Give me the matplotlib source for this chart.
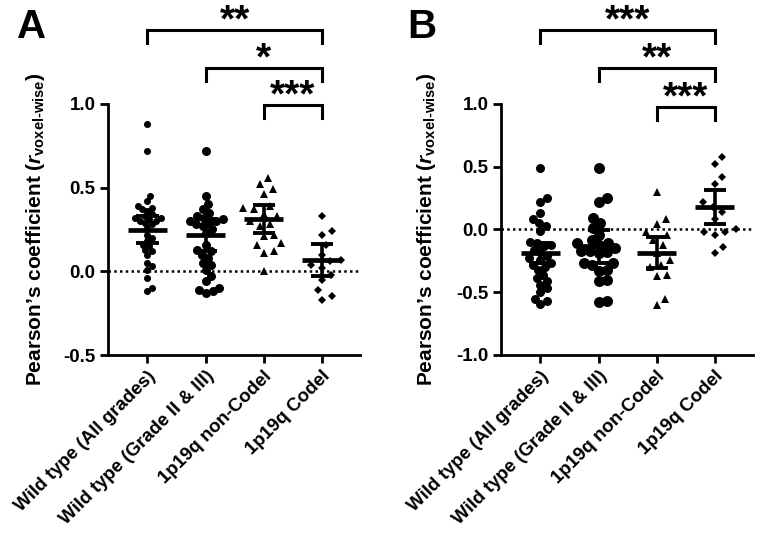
import numpy as np
import matplotlib
matplotlib.use("Agg")
import matplotlib.pyplot as plt

plt.rcParams["font.family"] = ["Liberation Sans", "DejaVu Sans"]
plt.rcParams["font.weight"] = "bold"
plt.rcParams["axes.unicode_minus"] = False
plt.rcParams["mathtext.fontset"] = "custom"
plt.rcParams["mathtext.rm"] = "Liberation Sans:bold"
plt.rcParams["mathtext.it"] = "Liberation Sans:italic:bold"
plt.rcParams["mathtext.bf"] = "Liberation Sans:bold"

# ─── Data ─────────────────────────────────────────────────────────
groups = ["Wild type (All grades)", "Wild type (Grade II & III)",
          "1p19q non-Codel", "1p19q Codel"]

a_wt_all = [0.88, 0.72, 0.45, 0.42, 0.39, 0.38, 0.37, 0.36, 0.34, 0.33, 0.32,
            0.32, 0.31, 0.30, 0.30, 0.29, 0.28, 0.26, 0.22, 0.20, 0.18, 0.16,
            0.15, 0.13, 0.12, 0.10, 0.05, 0.03, 0.01, -0.04, -0.10, -0.12]
a_wt_low = [0.72, 0.45, 0.40, 0.37, 0.35, 0.33, 0.32, 0.31, 0.30, 0.30, 0.29,
            0.28, 0.27, 0.25, 0.23, 0.16, 0.13, 0.12, 0.10, 0.08, 0.05, 0.04,
            0.01, -0.03, -0.06, -0.10, -0.11, -0.12, -0.13]
a_noncodel = [0.56, 0.52, 0.49, 0.46, 0.39, 0.38, 0.37, 0.34, 0.33, 0.30, 0.28,
              0.27, 0.22, 0.21, 0.17, 0.16, 0.12, 0.11, 0.00]
a_codel = [0.33, 0.24, 0.22, 0.16, 0.10, 0.07, 0.06, 0.04, 0.02, -0.02, -0.05,
           -0.11, -0.15, -0.17]
a_mean = [0.245, 0.215, 0.31, 0.065]
a_ci_low = [0.17, 0.12, 0.23, -0.03]
a_ci_high = [0.33, 0.31, 0.395, 0.163]
a_stars = ["**", "*", "***"]

b_wt_all = [0.49, 0.25, 0.22, 0.13, 0.08, 0.05, 0.03, -0.01, -0.10, -0.11,
            -0.12, -0.13, -0.16, -0.18, -0.21, -0.23, -0.24, -0.27, -0.28,
            -0.30, -0.32, -0.36, -0.39, -0.41, -0.44, -0.47, -0.50, -0.55,
            -0.57, -0.59]
b_wt_low = [0.49, 0.25, 0.22, 0.09, 0.05, 0.01, -0.04, -0.08, -0.11, -0.11,
            -0.12, -0.15, -0.17, -0.17, -0.18, -0.19, -0.27, -0.27, -0.28,
            -0.32, -0.33, -0.40, -0.41, -0.57, -0.58]
b_noncodel = [0.30, 0.08, 0.04, -0.02, -0.04, -0.08, -0.12, -0.19, -0.24,
              -0.28, -0.30, -0.36, -0.37, -0.55, -0.60]
b_codel = [0.58, 0.52, 0.42, 0.36, 0.22, 0.18, 0.14, 0.08, 0.00, -0.02, -0.02,
           -0.04, -0.14, -0.19]
b_mean = [-0.19, -0.13, -0.19, 0.178]
b_ci_low = [-0.267, -0.27, -0.31, 0.043]
b_ci_high = [-0.108, -0.005, -0.06, 0.315]
b_stars = ["***", "**", "***"]

sig_pairs = [(0, 3), (1, 3), (2, 3)]
markers = ["o", "o", "^", "D"]

YLABEL = r"Pearson’s coefficient ($\mathit{r}_{\mathrm{voxel\text{-}wise}}$)"


# ─── Helpers ──────────────────────────────────────────────────────
def swarm_x(ax, x0, vals, d_px):
    """simple beeswarm: offsets so markers d_px apart don't overlap"""
    tr = ax.transData
    pts = tr.transform(np.column_stack([np.full(len(vals), x0), vals]))
    ys = pts[:, 1]
    offs = np.zeros(len(vals))
    placed = []
    for i in np.argsort(ys):
        y = ys[i]
        cands = [0.0]
        for xp, yp in placed:
            dy = abs(y - yp)
            if dy < d_px:
                dx = np.sqrt(d_px ** 2 - dy ** 2)
                cands += [xp + dx, xp - dx]
        cands.sort(key=abs)
        for c in cands:
            if all((c - xp) ** 2 + (y - yp) ** 2 >= d_px ** 2 - 1e-6
                   for xp, yp in placed):
                offs[i] = c
                break
        placed.append((offs[i], y))
    back = tr.inverted().transform(np.column_stack([pts[:, 0] + offs, ys]))
    return back[:, 0]


def draw_panel(ax, data, mean, lo, hi, ylim, yticks, sizes, stars,
               br_y, br_leg):
    ax.set_xlim(-0.68, 3.66)
    ax.set_ylim(*ylim)
    ax.set_yticks(yticks)
    ax.set_yticklabels([f"{t:.1f}" for t in yticks])
    ax.set_xticks(range(len(groups)))
    ax.set_xticklabels(groups, rotation=45, ha="right", va="top",
                       rotation_mode="anchor")
    for s in ("top", "right"):
        ax.spines[s].set_visible(False)
    for s in ("left", "bottom"):
        ax.spines[s].set_linewidth(2.0)
    ax.tick_params(width=2.0, length=6, labelsize=13.5, pad=3)
    ax.axhline(0, color="k", ls=(0, (1, 1.3)), lw=1.8, zorder=1)

    for i, vals in enumerate(data):
        d = sizes[i]
        spread = 0.8 if markers[i] == "o" else 1.35
        xs = swarm_x(ax, i, vals, d * spread)
        ms = d * 0.72
        if markers[i] == "D":
            ms *= 0.75
        ax.plot(xs, vals, ls="none", marker=markers[i], ms=ms, color="k",
                mec="k", mew=0, zorder=2, clip_on=False)
        ax.hlines(mean[i], i - 0.34, i + 0.34, color="k", lw=3.4, zorder=3)
        ax.vlines(i, lo[i], hi[i], color="k", lw=2.6, zorder=3)
        ax.hlines([lo[i], hi[i]], i - 0.19, i + 0.19, color="k", lw=2.8,
                  zorder=3)

    for (g1, g2), st, y in zip(sig_pairs, stars, br_y):
        ax.plot([g1, g1, g2, g2], [y - br_leg, y, y, y - br_leg], color="k",
                lw=2.2, clip_on=False, solid_joinstyle="miter")
        ax.annotate(st, xy=((g1 + g2) / 2, y), xytext=(0, -0.8),
                    textcoords="offset points", ha="center", va="baseline",
                    fontsize=28, fontweight="bold", annotation_clip=False)


# ─── Figure ───────────────────────────────────────────────────────
W, H = 757, 535
fig = plt.figure(figsize=(W / 100, H / 100), dpi=100)
axA = fig.add_axes([108 / W, 1 - 355 / H, 252 / W, 251 / H])
axB = fig.add_axes([501 / W, 1 - 355 / H, 252 / W, 251 / H])

draw_panel(axA, [a_wt_all, a_wt_low, a_noncodel, a_codel],
           a_mean, a_ci_low, a_ci_high, (-0.5, 1.0), [-0.5, 0.0, 0.5, 1.0],
           [7, 9, 8, 8], a_stars, [1.44, 1.214, 0.994], 0.077)
draw_panel(axB, [b_wt_all, b_wt_low, b_noncodel, b_codel],
           b_mean, b_ci_low, b_ci_high, (-1.0, 1.0),
           [-1.0, -0.5, 0.0, 0.5, 1.0],
           [9, 11, 8, 8], b_stars, [1.587, 1.286, 0.976], 0.103)

fig.text(36 / W, 1 - 229 / H, YLABEL, rotation=90, ha="center", va="center",
         fontsize=15)
fig.text(426 / W, 1 - 229 / H, YLABEL, rotation=90, ha="center", va="center",
         fontsize=15)
fig.text(17 / W, 1 - 38 / H, "A", fontsize=29, fontweight="bold",
         ha="left", va="baseline")
fig.text(407 / W, 1 - 38 / H, "B", fontsize=29, fontweight="bold",
         ha="left", va="baseline")

fig.savefig("out.png", dpi=100)
